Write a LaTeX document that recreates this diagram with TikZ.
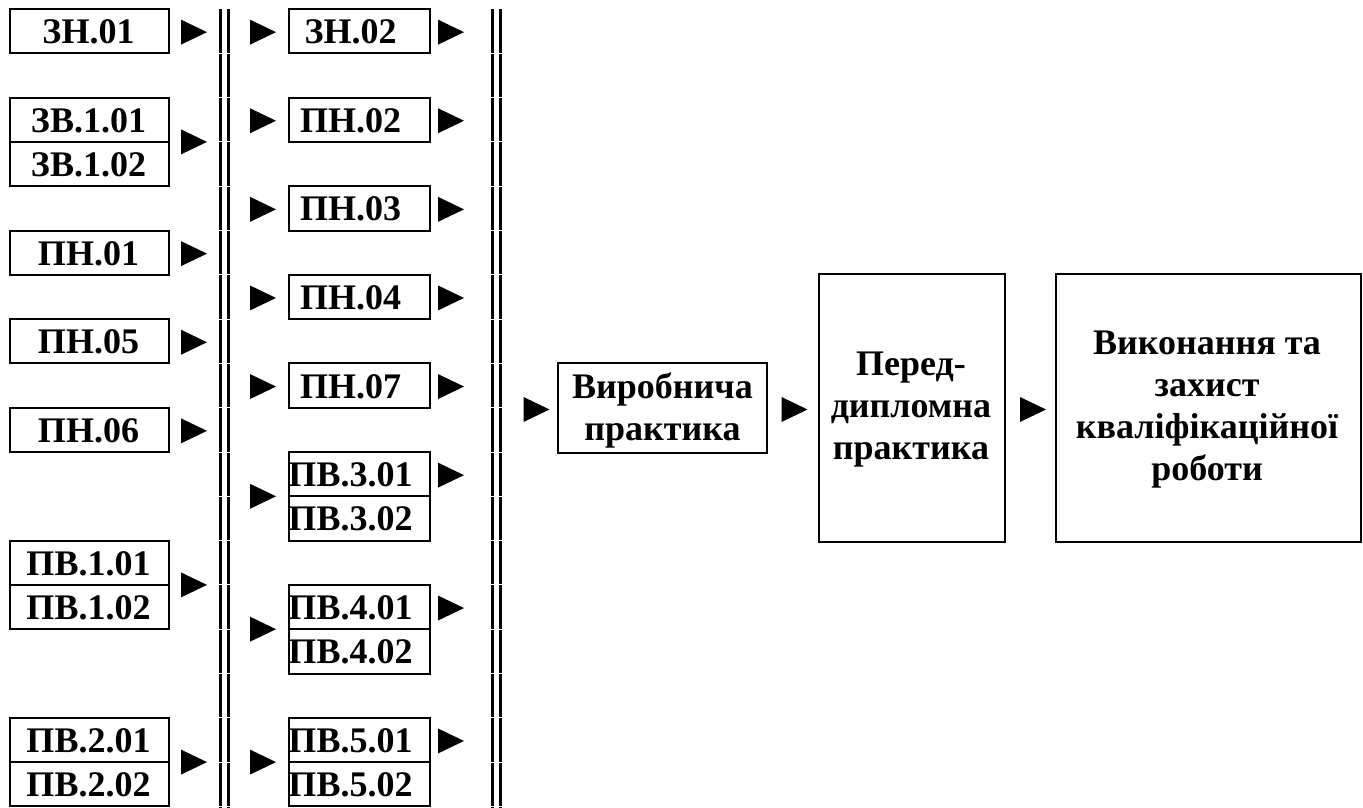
\documentclass[tikz,border=0pt]{standalone}
\usepackage{fontspec}
\setmainfont{Liberation Serif}
\newcommand\boxL[3]{%
  \node[box,minimum width=159pt] (#1) at (89.5,{31.15+44.3*#2}) {};
  \node[lab] (#1-t) at (88.5,{43.65+44.3*#2}) {#3};}
\newcommand\boxM[3]{%
  \node[box,minimum width=141pt] (#1) at (359.5,{31.15+44.3*#2}) {};
  \node[lab] (#1-t) at (350.5,{43.65+44.3*#2}) {#3};}
\begin{document}
\begin{tikzpicture}[x=1pt,y=-1pt,
  box/.style={draw, line width=2pt, inner sep=0pt, minimum height=44.3pt},
  lab/.style={font=\bfseries\fontsize{36}{42}\selectfont, inner sep=0pt, anchor=base},
  big/.style={font=\bfseries\fontsize{36}{42}\selectfont, inner sep=0pt, align=center},
  bigbox/.style={draw, line width=2pt, inner sep=0pt},
  dbl/.style={line width=3pt, dash pattern=on 43.3pt off 1pt},
  tri/.pic={\fill (-13,-12.5) -- (13,0) -- (-13,12.5) -- cycle;}]
\useasboundingbox (0,0) rectangle (1363,808);
\clip (0,0) rectangle (1363,808);
% left column
\boxL{zn01}{0}{ЗН.01}
\boxL{zv101}{2}{ЗВ.1.01}
\boxL{zv102}{3}{ЗВ.1.02}
\boxL{pn01}{5}{ПН.01}
\boxL{pn05}{7}{ПН.05}
\boxL{pn06}{9}{ПН.06}
\boxL{pv101}{12}{ПВ.1.01}
\boxL{pv102}{13}{ПВ.1.02}
\boxL{pv201}{16}{ПВ.2.01}
\boxL{pv202}{17}{ПВ.2.02}
% middle column
\boxM{zn02}{0}{ЗН.02}
\boxM{pn02}{2}{ПН.02}
\boxM{pn03}{4}{ПН.03}
\boxM{pn04}{6}{ПН.04}
\boxM{pn07}{8}{ПН.07}
\boxM{pv301}{10}{ПВ.3.01}
\boxM{pv302}{11}{ПВ.3.02}
\boxM{pv401}{13}{ПВ.4.01}
\boxM{pv402}{14}{ПВ.4.02}
\boxM{pv501}{16}{ПВ.5.01}
\boxM{pv502}{17}{ПВ.5.02}
% double bars
\coordinate (b1t) at (220.5,9.5); \coordinate (b1b) at (220.5,810);
\coordinate (b2t) at (228.5,9.5); \coordinate (b2b) at (228.5,810);
\coordinate (b3t) at (492,9.5); \coordinate (b3b) at (492,810);
\coordinate (b4t) at (500,9.5); \coordinate (b4b) at (500,810);
\draw[dbl] (b1t) -- (b1b);
\draw[dbl] (b2t) -- (b2b);
\draw[dbl] (b3t) -- (b3b);
\draw[dbl] (b4t) -- (b4b);
% arrows left column
\foreach \y in {32.15, 253.65, 342.25, 430.85} {\pic at (194,\y) {tri};}
\foreach \y in {141.9, 584.9, 762.1} {\pic at (194,\y) {tri};}
% arrows middle-left
\foreach \y in {32.15, 120.75, 209.35, 297.95, 386.55} {\pic at (263,\y) {tri};}
\foreach \y in {496.3, 629.2, 762.1} {\pic at (263,\y) {tri};}
% arrows middle-right
\foreach \y in {32.15, 120.75, 209.35, 297.95, 386.55, 475.15, 608.05, 740.95} {\pic at (451,\y) {tri};}
% right part
\node[bigbox, minimum width=209pt, minimum height=90pt] (vp) at (662.5,408) {};
\node[big] (vp-t) at (662.5,410) {Виробнича\\практика};
\node[bigbox, minimum width=186pt, minimum height=268pt] (pp) at (912,408) {};
\node[big] (pp-t) at (911,410) {Перед-\\дипломна\\практика};
\node[bigbox, minimum width=305pt, minimum height=268pt] (vz) at (1208.5,408) {};
\node[big] (vz-t) at (1207,410) {Виконання та\\захист\\кваліфікаційної\\роботи};
\pic at (536.5,409.5) {tri};
\pic at (794.5,409.5) {tri};
\pic at (1033,409.5) {tri};
\end{tikzpicture}
\end{document}
